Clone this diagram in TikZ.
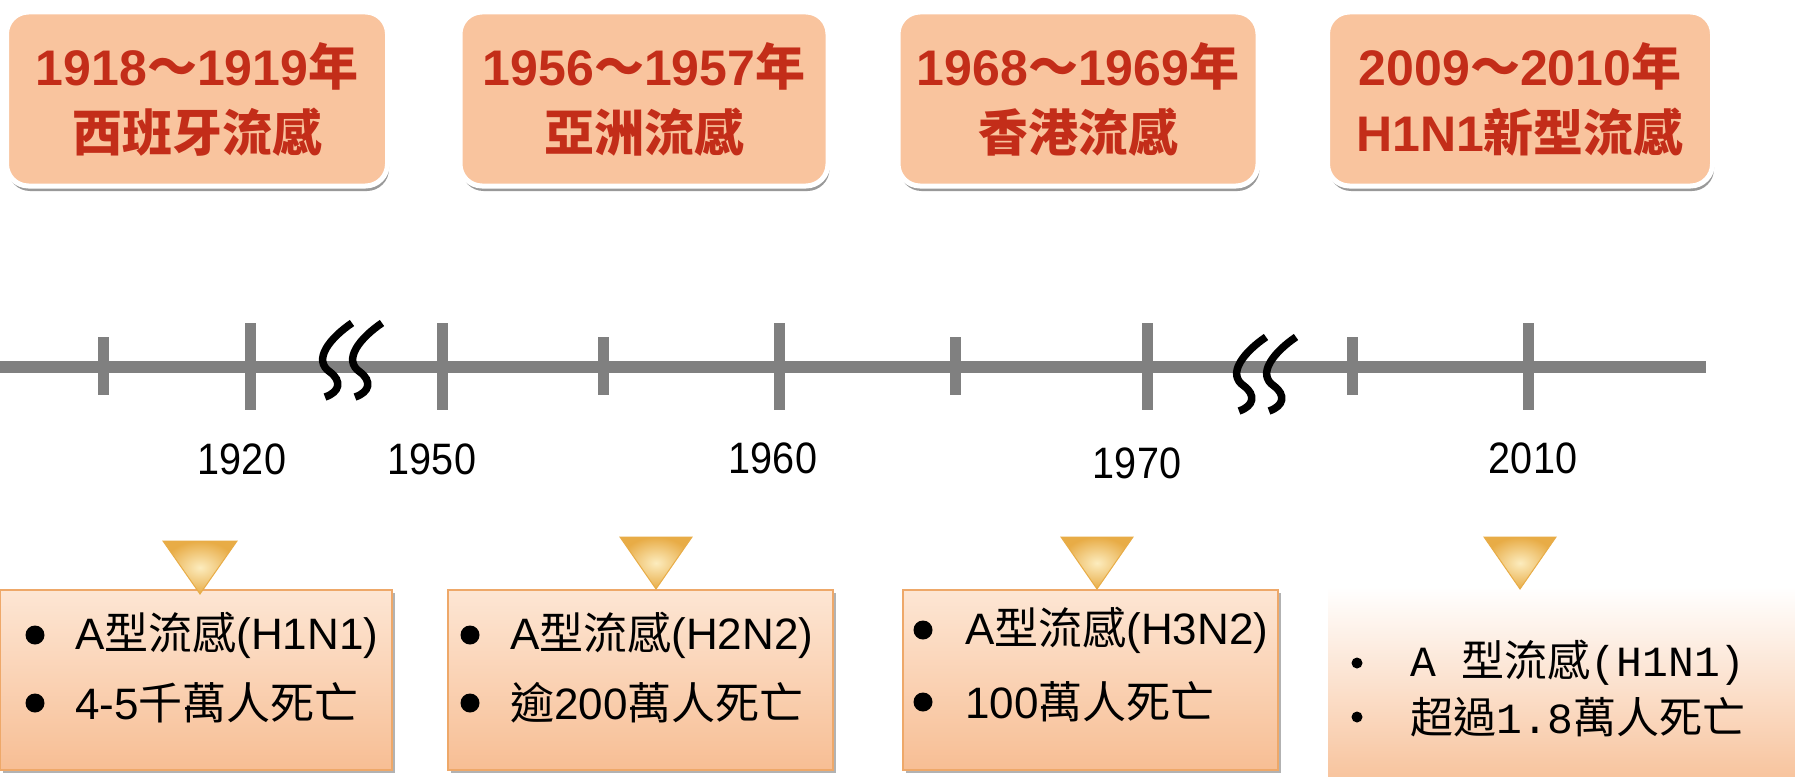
\documentclass[tikz,border=0pt]{standalone}
\usepackage{fontspec}
\setmainfont{Liberation Sans}
\newfontfamily\cjk{Noto Sans CJK TC}
\newfontfamily\monofam{Liberation Mono}
\newfontfamily\narrowfam{Liberation Sans}[FakeStretch=0.9]
\usetikzlibrary{shadows}
\newcommand\zh[1]{{\cjk #1}}
\definecolor{peach}{RGB}{249,196,158}
\definecolor{titlered}{RGB}{195,45,25}
\definecolor{axisgray}{RGB}{128,128,128}
\definecolor{boxtop}{RGB}{253,230,212}
\definecolor{boxbot}{RGB}{247,190,148}
\definecolor{boxedge}{RGB}{238,168,105}
\definecolor{goldedge}{RGB}{232,172,70}
\definecolor{goldin}{RGB}{252,236,190}
\begin{document}
\begin{tikzpicture}[x=1pt,y=-1pt,
  topbox/.style={rectangle, rounded corners=22pt, fill=peach, draw=white, line width=5pt,
    inner sep=0pt, minimum height=174pt, align=center, text=titlered,
    font=\fontsize{50}{66}\selectfont\bfseries,
    drop shadow={shadow xshift=1.5pt, shadow yshift=-5pt, fill=black, opacity=0.4}},
  infobox/.style={rectangle, inner sep=0pt, minimum height=180pt,
    top color=boxtop, bottom color=boxbot, draw=boxedge, line width=1.2pt,
    drop shadow={shadow xshift=3pt, shadow yshift=-3pt, fill=black, opacity=0.3}},
  lastbox/.style={rectangle, inner sep=0pt, top color=white, bottom color=boxbot!90!white},
  itemtext/.style={anchor=west, inner sep=0pt, font=\fontsize{44}{50}\selectfont},
  yeartext/.style={inner sep=0pt, font=\narrowfam\fontsize{44}{50}\selectfont},
  axisline/.style={draw=axisgray, line width=12pt},
  tickline/.style={draw=axisgray, line width=11pt},
  brkline/.style={draw=black, line width=7.5pt},
  marker/.style={draw=goldedge, line width=1pt, inner color=goldin, outer color=goldedge},
  brk/.pic={
    \draw[brkline] (0,0) .. controls (-22,15) and (-40,37) .. (-22,49) .. controls (-10,58) and (-12,69) .. (-27,74);
    \draw[brkline] (30,0) .. controls (8,15) and (-10,37) .. (8,49) .. controls (20,58) and (18,69) .. (3,74);
  }]
\fill[white] (0,0) rectangle (1795,776);
\useasboundingbox (0,0) rectangle (1795,776);

% top boxes
\node[topbox, minimum width=381pt] (t1) at (197,99) {1918\zh{～}1919\zh{年}\\\zh{西班牙流感}};
\node[topbox, minimum width=368pt] (t2) at (644,99) {1956\zh{～}1957\zh{年}\\\zh{亞洲流感}};
\node[topbox, minimum width=360pt] (t3) at (1078,99) {1968\zh{～}1969\zh{年}\\\zh{香港流感}};
\node[topbox, minimum width=385pt] (t4) at (1520,99) {2009\zh{～}2010\zh{年}\\H1N1\zh{新型流感}};

% timeline
\draw[axisline] (0,367) -- (1706,367);
\foreach \x in {250,442,779,1147,1528} \draw[tickline] (\x,323) -- (\x,410);
\foreach \x in {103,603,955,1352} \draw[tickline] (\x,337) -- (\x,395);
\pic at (352,323) {brk};
\pic at (1266,337) {brk};

% year labels
\node[yeartext] (y1920) at (242,459) {1920};
\node[yeartext] (y1950) at (432,459) {1950};
\node[yeartext] (y1960) at (773,458) {1960};
\node[yeartext] (y1970) at (1137,463) {1970};
\node[yeartext] (y2010) at (1533,458) {2010};

% bottom boxes
\node[infobox, minimum width=392pt] (b1) at (196,680) {};
\node[infobox, minimum width=385pt] (b2) at (640.5,680) {};
\node[infobox, minimum width=375pt] (b3) at (1090.5,680) {};
\node[lastbox, minimum width=467pt, minimum height=189pt] (b4) at (1561.5,681.5) {};

% markers
\shade[marker] (163,541) -- (237,541) -- (200,594) -- cycle;
\shade[marker] (620,537) -- (692,537) -- (656,589) -- cycle;
\shade[marker] (1061,537) -- (1133,537) -- (1097,589) -- cycle;
\shade[marker] (1484,537) -- (1556,537) -- (1520,589) -- cycle;

% bullets and items
\fill (35,635) circle (9.5); \fill (35,703) circle (9.5);
\node[itemtext] (i11) at (75,635) {A\zh{型流感}(H1N1)};
\node[itemtext] (i12) at (75,703) {4-5\zh{千萬人死亡}};

\fill (470,635) circle (9.5); \fill (470,703) circle (9.5);
\node[itemtext] (i21) at (510,635) {A\zh{型流感}(H2N2)};
\node[itemtext] (i22) at (510,703) {\zh{逾}200\zh{萬人死亡}};

\fill (923,630) circle (9.5); \fill (923,702) circle (9.5);
\node[itemtext] (i31) at (965,630) {A\zh{型流感}(H3N2)};
\node[itemtext] (i32) at (965,702) {100\zh{萬人死亡}};

\fill (1357,663) circle (5.5); \fill (1357,717) circle (5.5);
\node[itemtext, font=\fontsize{43}{50}\selectfont] (i41) at (1410,663) {{\monofam A }\zh{型流感}{\monofam(H1N1)}};
\node[itemtext, font=\fontsize{43}{50}\selectfont] (i42) at (1410,717) {\zh{超過}{\monofam 1.8}\zh{萬人死亡}};
\end{tikzpicture}
\end{document}
